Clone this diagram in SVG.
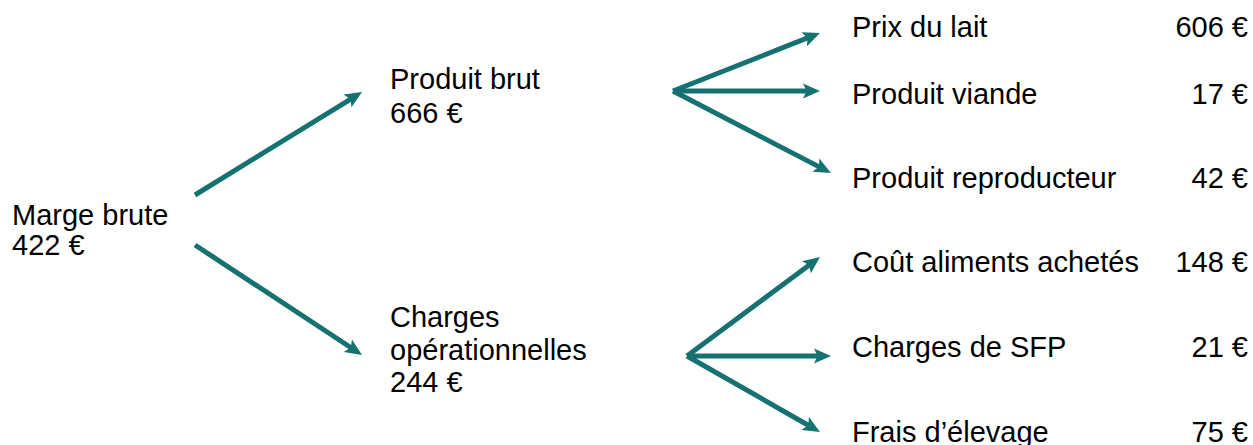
<svg xmlns="http://www.w3.org/2000/svg" width="1253" height="445" viewBox="0 0 1253 445">
<style>
text{font-family:"Liberation Sans",Arial,sans-serif;font-size:29px;fill:#000}
.v{text-anchor:end}
.c line{stroke:#167270;stroke-width:5;marker-end:url(#ah)}
</style>
<defs>
<marker id="ah" markerWidth="3.4" markerHeight="3" refX="1.4" refY="1.5" orient="auto" markerUnits="strokeWidth" overflow="visible">
<path d="M0,0 L3.4,1.5 L0,3 L0.7,1.5 Z" fill="#167270"/>
</marker>
</defs>
<rect width="1253" height="445" fill="#fff"/>
<g id="connectors" class="c">
<line x1="195" y1="195" x2="353.5" y2="97.3"/>
<line x1="195" y1="245" x2="353.7" y2="349.5"/>
<line x1="673" y1="91" x2="810.7" y2="36.7"/>
<line x1="673" y1="91" x2="810" y2="91"/>
<line x1="673" y1="91" x2="822.1" y2="168.4"/>
<line x1="687" y1="356" x2="812" y2="263"/>
<line x1="687" y1="356" x2="821" y2="356"/>
<line x1="687" y1="356" x2="811.3" y2="427"/>
</g>
<g id="marge"><text x="12" y="225">Marge brute</text><text x="12" y="255">422 €</text></g>
<g id="produit"><text x="390" y="89">Produit brut</text><text x="390" y="123">666 €</text></g>
<g id="charges"><text x="390" y="327">Charges</text><text x="390" y="360">opérationnelles</text><text x="390" y="392">244 €</text></g>
<g id="lait"><text x="852" y="37">Prix du lait</text><text class="v" x="1248" y="37">606 €</text></g>
<g id="viande"><text x="852" y="104">Produit viande</text><text class="v" x="1248" y="104">17 €</text></g>
<g id="repro"><text x="852" y="188">Produit reproducteur</text><text class="v" x="1248" y="188">42 €</text></g>
<g id="aliments"><text x="852" y="272">Coût aliments achetés</text><text class="v" x="1248" y="272">148 €</text></g>
<g id="sfp"><text x="852" y="357">Charges de SFP</text><text class="v" x="1248" y="357">21 €</text></g>
<g id="frais"><text x="852" y="442">Frais d’élevage</text><text class="v" x="1248" y="442">75 €</text></g>
</svg>
